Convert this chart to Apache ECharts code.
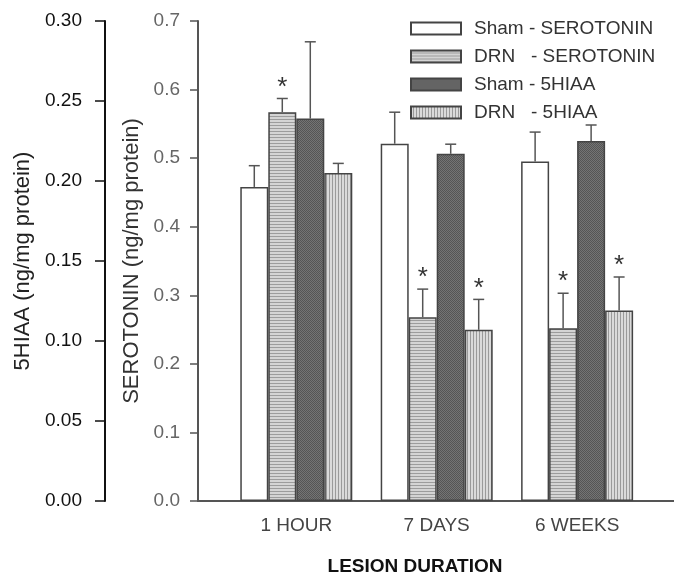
<!DOCTYPE html>
<html>
<head>
<meta charset="utf-8">
<style>
html, body { margin: 0; padding: 0; background: #fff; }
#main { width: 674px; height: 576px; }   /* 图表容器必须有宽高 */
</style>
<script src="https://cdn.jsdelivr.net/npm/echarts@6/dist/echarts.min.js"></script>
</head>
<body>
<div id="main"></div>
<script>
// categories / series values
var categories = ['1 HOUR', '7 DAYS', '6 WEEKS'];
var seriesNames = ['Sham - SEROTONIN', 'DRN   - SEROTONIN', 'Sham - 5HIAA', 'DRN   - 5HIAA'];

var shamSerotonin    = [0.458, 0.521, 0.495];
var shamSerotoninErr = [0.031, 0.046, 0.043];
var drnSerotonin     = [0.567, 0.268, 0.252];
var drnSerotoninErr  = [0.020, 0.041, 0.051];
var sham5hiaa        = [0.239, 0.217, 0.225];
var sham5hiaaErr     = [0.048, 0.006, 0.010];
var drn5hiaa         = [0.205, 0.107, 0.119];
var drn5hiaaErr      = [0.006, 0.019, 0.021];

// significance markers (*)
var drnSerotoninStar = [true, true, true];
var drn5hiaaStar     = [false, true, true];

// tick labels
var serotoninTicks = ['0.0', '0.1', '0.2', '0.3', '0.4', '0.5', '0.6', '0.7'];
var hiaaTicks      = ['0.00', '0.05', '0.10', '0.15', '0.20', '0.25', '0.30'];

var FONT = '"Liberation Sans", Arial, sans-serif';
var BAR_W = 28;

function makePattern(w, h, draw) {
    var c = document.createElement('canvas');
    c.width = w; c.height = h;
    draw(c.getContext('2d'), w, h);
    return { image: c, repeat: 'repeat' };
}
var hLines = makePattern(4, 3, function (ctx, w, h) {
    ctx.fillStyle = '#d4d4d4'; ctx.fillRect(0, 0, w, h);
    ctx.fillStyle = '#9c9c9c'; ctx.fillRect(0, 2, w, 1);
});
var stipple = makePattern(2, 2, function (ctx, w, h) {
    ctx.fillStyle = '#747474'; ctx.fillRect(0, 0, w, h);
    ctx.fillStyle = '#555555'; ctx.fillRect(0, 0, 1, 1); ctx.fillRect(1, 1, 1, 1);
});
var vLines = makePattern(3, 4, function (ctx, w, h) {
    ctx.fillStyle = '#dadada'; ctx.fillRect(0, 0, w, h);
    ctx.fillStyle = '#9a9a9a'; ctx.fillRect(2, 0, 1, h);
});

function toPairs(arr) {
    return arr.map(function (v, i) { return [i + 1, v]; });
}

function barSeries(name, values, yIdx, color) {
    return {
        name: name,
        type: 'bar',
        yAxisIndex: yIdx,
        barWidth: BAR_W,
        barGap: '0%',
        data: toPairs(values),
        itemStyle: { color: color, borderColor: '#444', borderWidth: 1.5 }
    };
}

// 误差线 (only upper whisker) + star
function errorSeries(values, errs, stars, yIdx, offset) {
    return {
        type: 'custom',
        yAxisIndex: yIdx,
        z: 5,
        silent: true,
        data: values.map(function (v, i) {
            return [i + 1, v, errs[i], stars && stars[i] ? 1 : 0];
        }),
        encode: { x: 0, y: 1 },
        renderItem: function (params, api) {
            var x = api.value(0), v = api.value(1), e = api.value(2);
            var base = api.coord([x, v]);
            var top = api.coord([x, v + e]);
            var cx = base[0] + offset;
            var children = [
                { type: 'line', shape: { x1: cx, y1: base[1], x2: cx, y2: top[1] },
                  style: { stroke: '#555', lineWidth: 1.5 } },
                { type: 'line', shape: { x1: cx - 5.5, y1: top[1], x2: cx + 5.5, y2: top[1] },
                  style: { stroke: '#555', lineWidth: 1.5 } }
            ];
            if (api.value(3)) {
                children.push({ type: 'text', style: {
                    text: '*', x: cx, y: top[1] - 11, align: 'center', verticalAlign: 'middle',
                    font: '26px ' + FONT, fill: '#333' } });
            }
            return { type: 'group', children: children };
        }
    };
}

var myChart = echarts.init(document.getElementById('main'));
myChart.setOption({
    animation: false,
    backgroundColor: '#fff',
    textStyle: { fontFamily: FONT },
    title: {
        text: 'LESION DURATION',
        left: 415, top: 557, padding: 0,
        textAlign: 'center',
        textStyle: { fontSize: 19, fontWeight: 'bold', color: '#111', fontFamily: FONT }
    },
    legend: {
        orient: 'vertical',
        left: 410, top: 19, padding: 0,
        itemWidth: 50, itemHeight: 12, itemGap: 9,
        icon: 'rect',
        data: seriesNames,
        textStyle: { fontSize: 19, color: '#333', padding: [0, 0, 0, 8], fontFamily: FONT }
    },
    grid: { left: 198, right: 0, top: 21, bottom: 75, outerBoundsMode: 'none' },
    xAxis: {
        type: 'value',
        min: 0.3, max: 3.69,
        axisLine: { show: true, onZero: false, lineStyle: { color: '#555', width: 2 } },
        axisTick: { show: false },
        splitLine: { show: false },
        axisLabel: {
            customValues: [1, 2, 3],
            formatter: function (v) { return categories[Math.round(v) - 1] || ''; },
            margin: 15, fontSize: 19, color: '#444'
        }
    },
    yAxis: [{
        type: 'value',
        position: 'left',
        min: 0, max: 0.7, interval: 0.1,
        name: 'SEROTONIN (ng/mg protein)',
        nameLocation: 'middle', nameRotate: 90, nameGap: 54,
        nameTextStyle: { fontSize: 22, color: '#333' },
        axisLine: { show: true, lineStyle: { color: '#555', width: 2 } },
        axisTick: { show: true, length: 8, lineStyle: { color: '#555', width: 1.5 } },
        splitLine: { show: false },
        axisLabel: {
            formatter: function (v) { return serotoninTicks[Math.round(v * 10)]; },
            margin: 18, fontSize: 19, color: '#666'
        }
    }, {
        type: 'value',
        position: 'left',
        offset: 93,
        min: 0, max: 0.3, interval: 0.05,
        name: '5HIAA (ng/mg protein)',
        nameLocation: 'middle', nameRotate: 90, nameGap: 69,
        nameTextStyle: { fontSize: 22, color: '#222' },
        axisLine: { show: true, lineStyle: { color: '#111', width: 2 } },
        axisTick: { show: true, length: 10, lineStyle: { color: '#111', width: 1.5 } },
        splitLine: { show: false },
        axisLabel: {
            formatter: function (v) { return hiaaTicks[Math.round(v * 20)]; },
            margin: 23, fontSize: 19, color: '#111'
        }
    }],
    series: [
        barSeries(seriesNames[0], shamSerotonin, 0, '#ffffff'),
        barSeries(seriesNames[1], drnSerotonin, 0, hLines),
        barSeries(seriesNames[2], sham5hiaa, 1, stipple),
        barSeries(seriesNames[3], drn5hiaa, 1, vLines),
        errorSeries(shamSerotonin, shamSerotoninErr, null, 0, -1.5 * BAR_W),
        errorSeries(drnSerotonin, drnSerotoninErr, drnSerotoninStar, 0, -0.5 * BAR_W),
        errorSeries(sham5hiaa, sham5hiaaErr, null, 1, 0.5 * BAR_W),
        errorSeries(drn5hiaa, drn5hiaaErr, drn5hiaaStar, 1, 1.5 * BAR_W)
    ]
});
</script>
</body>
</html>
